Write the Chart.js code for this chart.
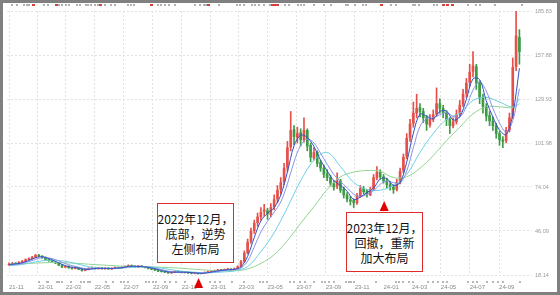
<!DOCTYPE html>
<html>
<head>
<meta charset="utf-8">
<script src="https://cdn.jsdelivr.net/npm/chart.js@4.4.0/dist/chart.umd.min.js"></script>
<style>
  html, body { margin: 0; padding: 0; background: #fff; }
  #wrap { position: relative; width: 560px; height: 295px; overflow: hidden; }
  #kline { position: absolute; left: 0; top: 0; }
  #frame { position: absolute; left: 0; top: 0; width: 560px; height: 295px; box-sizing: border-box; border: 3px solid #808080; pointer-events: none; }
  .note { position: absolute; box-sizing: border-box; border: 1.5px solid #e02b2b; background: #fff;
          font-family: "Noto Sans CJK SC", sans-serif; font-size: 12px; line-height: 15px; color: #111;
          display: flex; align-items: center; justify-content: center; text-align: center; white-space: nowrap; }
</style>
</head>
<body>
<div id="wrap">
  <canvas id="kline" width="560" height="295"></canvas>
  <div class="note" style="left:157px;top:203px;width:77px;height:60px;"><div>2022年12月，<br>底部，逆势<br>左侧布局</div></div>
  <div class="note" style="left:346px;top:212px;width:77px;height:60px;"><div>2023年12月，<br>回撤，重新<br>加大布局</div></div>
  <div id="frame"></div>
</div>
<script>
// weekly candles, week 0 = 2021-11-01
const startDate = new Date(2021, 10, 1);

const tickLabels = ['21-11','22-01','22-03','22-05','22-07','22-09','22-11','23-01','23-03',
                    '23-05','23-07','23-09','23-11','24-01','24-03','24-05','24-07','24-09'];
const yTicks = [18.14, 46.09, 74.04, 101.98, 129.93, 157.88, 185.83];

const openP = [
  24.6,25.0,25.7,25.1,26.4,26.7,28.0,28.5,29.5,30.7,
  30.1,29.2,28.0,27.3,26.2,25.9,24.5,23.1,23.7,22.8,
  22.2,22.9,21.9,21.0,21.7,22.3,22.9,22.1,22.7,22.0,
  22.6,21.9,22.4,23.0,22.6,23.0,23.7,24.2,23.8,23.1,
  23.9,23.4,23.0,22.3,21.9,21.2,20.6,20.4,19.9,19.4,
  19.8,20.5,20.1,19.6,20.0,19.6,19.1,19.4,19.0,19.3,
  19.8,20.2,20.6,21.0,21.5,21.2,21.6,22.0,21.5,22.2,
  23.6,26.8,32.3,39.5,46.5,51.5,55.0,58.5,59.0,56.5,
  61.5,66.5,72.5,77.5,86.5,99.5,110.5,105.5,108.5,104.0,
  110.0,100.5,92.5,96.0,89.5,86.0,82.5,80.0,76.0,74.5,
  78.0,72.5,69.0,66.0,65.5,64.0,68.5,73.0,71.5,69.0,
  73.0,80.0,83.5,80.5,78.0,75.5,74.0,72.5,77.0,84.5,
  93.5,105.5,114.5,121.0,124.5,122.0,118.0,113.5,117.0,120.5,
  127.0,124.0,121.0,117.0,113.0,115.5,120.5,126.5,133.5,140.5,
  147.5,150.5,140.0,131.0,125.0,119.5,116.0,113.0,108.0,104.0,
  103.5,110.5,118.5,150.5,169.0
];
const highP = [
  25.8,26.1,26.0,26.7,27.4,28.4,29.1,30.0,31.3,31.2,
  30.5,29.6,28.5,27.7,26.9,26.1,24.8,24.2,24.0,23.1,
  23.4,23.1,22.2,22.0,22.8,23.3,23.1,23.0,22.9,22.9,
  22.8,22.7,23.3,23.2,23.5,24.0,24.6,24.5,24.0,24.2,
  24.1,23.6,23.1,22.5,22.0,21.4,20.9,20.6,20.1,20.2,
  20.8,20.7,20.3,20.3,20.2,19.8,19.8,19.6,19.6,20.1,
  20.6,20.9,21.3,21.8,21.7,22.0,22.4,22.2,22.6,24.0,
  27.5,33.5,41.0,48.0,53.0,57.5,61.0,63.0,60.5,63.5,
  69.0,75.0,80.0,89.0,103.0,122.0,113.0,112.0,111.0,118.0,
  111.0,102.0,99.0,97.0,91.0,88.0,85.0,81.5,78.0,83.0,
  79.0,74.0,70.5,68.0,66.5,70.0,75.0,74.5,72.5,74.0,
  82.0,87.0,85.0,82.0,79.5,77.5,75.5,79.0,86.0,95.0,
  108.0,117.0,128.0,133.0,127.0,124.0,119.5,120.0,123.0,137.0,
  130.0,126.0,122.5,118.0,118.0,123.0,129.0,136.0,143.0,152.0,
  160.0,152.0,141.5,133.0,127.0,122.0,118.5,114.5,109.5,106.0,
  112.0,121.0,156.0,186.0,174.0
];
const lowP = [
  24.2,24.7,24.8,24.9,26.0,26.5,27.5,28.2,29.0,29.6,
  28.6,27.6,26.8,25.9,25.3,24.0,22.8,22.9,22.4,21.9,
  22.0,21.5,20.5,20.8,21.4,22.0,21.8,21.9,21.8,21.8,
  21.7,21.7,22.2,22.3,22.4,22.8,23.4,23.4,22.9,22.9,
  23.1,22.6,22.0,21.5,20.9,20.3,20.0,19.6,19.1,19.2,
  19.6,19.8,19.4,19.4,19.2,18.9,18.9,18.7,18.8,19.1,
  19.6,20.0,20.3,20.8,20.8,21.0,21.4,21.2,21.3,22.0,
  23.3,26.2,31.5,38.2,44.5,49.0,53.0,55.5,53.5,55.0,
  59.5,64.0,69.5,75.5,84.0,97.0,101.0,102.0,100.0,102.5,
  97.0,90.0,91.0,87.0,84.0,80.0,78.0,74.5,72.0,73.0,
  70.5,67.0,64.5,62.5,61.0,63.0,67.5,69.5,67.5,68.5,
  72.0,78.5,79.0,76.5,73.5,72.0,70.0,71.5,76.0,83.0,
  92.0,103.0,112.0,118.0,118.5,115.0,110.0,112.0,115.5,119.0,
  121.0,118.0,113.0,108.0,111.5,114.0,119.0,125.0,131.0,138.0,
  144.0,136.0,127.0,121.0,116.0,113.0,110.0,105.0,100.5,99.0,
  102.0,109.0,117.5,148.0,152.0
];
const closeP = [
  25.0,25.6,25.2,26.3,26.8,27.9,28.6,29.4,30.6,30.2,
  29.1,28.0,27.2,26.3,25.8,24.4,23.2,23.6,22.7,22.3,
  22.9,21.8,21.0,21.6,22.4,22.8,22.2,22.6,22.1,22.5,
  22.0,22.4,22.9,22.6,23.1,23.6,24.1,23.7,23.2,23.8,
  23.4,22.9,22.3,21.8,21.2,20.6,20.3,19.9,19.5,19.8,
  20.4,20.1,19.7,20.0,19.5,19.2,19.4,19.0,19.3,19.8,
  20.3,20.6,21.0,21.4,21.2,21.6,21.9,21.5,22.1,23.5,
  26.5,32.0,39.0,46.0,51.0,55.0,58.0,59.5,57.0,61.0,
  66.0,72.0,77.0,86.0,99.0,110.0,106.0,108.0,104.0,110.0,
  100.0,93.0,96.0,89.0,86.0,82.0,80.0,76.5,74.0,78.0,
  72.0,69.0,66.5,65.0,64.0,68.5,73.0,71.0,69.5,72.5,
  80.0,83.5,80.5,78.0,75.5,74.0,72.5,77.0,84.0,93.0,
  105.0,114.0,121.0,124.0,122.0,118.0,114.0,117.0,120.0,127.0,
  124.0,121.0,117.0,113.0,115.5,120.0,126.0,133.0,140.0,147.0,
  151.0,140.0,131.0,125.0,119.0,116.0,113.0,108.0,104.0,103.0,
  110.0,118.0,150.0,170.0,160.0
];

// moving average lines (fast ones every 2 weeks, slow ones every 4)
const fastWeeks = [];
for (let w = 0; w <= 154; w += 2) fastWeeks.push(w);
const slowWeeks = [];
for (let w = 0; w <= 152; w += 4) slowWeeks.push(w);
slowWeeks.push(154);

const ma20 = [
  24.8,25.2,25.9,27.4,29.1,29.8,28.6,26.8,24.9,23.4,
  22.9,22.0,21.7,22.3,22.4,22.3,22.4,22.8,23.6,23.7,
  23.5,23.0,22.1,21.0,20.1,19.9,20.0,19.8,19.5,19.2,
  19.6,20.4,21.1,21.5,21.7,23.4,30.0,42.0,52.5,57.4,
  60.9,69.0,83.5,100.2,107.0,105.5,99.8,91.0,84.3,78.1,
  75.1,71.4,66.1,67.6,70.5,73.3,79.1,79.4,75.0,76.9,
  89.8,108.2,120.3,119.0,117.3,122.0,122.3,116.6,118.6,129.8,
  142.8,142.3,128.8,118.5,110.3,107.3,120.3,149.5
];
const ma30 = [
  24.5,24.9,25.5,26.7,28.0,29.2,29.0,27.9,26.2,24.7,
  23.6,22.6,22.1,22.1,22.3,22.3,22.3,22.6,23.2,23.6,
  23.6,23.3,22.5,21.6,20.6,20.0,19.9,19.9,19.6,19.4,
  19.5,20.0,20.7,21.2,21.6,22.6,27.0,36.0,45.5,52.3,
  58.0,64.5,76.0,90.0,100.5,104.5,102.0,95.5,88.5,82.0,
  77.5,73.6,69.5,68.0,69.3,71.5,75.8,77.8,76.8,76.5,
  84.2,99.0,112.5,117.5,118.0,120.0,121.2,119.0,118.4,125.0,
  135.6,140.8,135.0,124.0,114.7,109.0,116.2,136.5
];
const ma60 = [
  24.0,24.8,26.5,27.5,27.2,25.5,23.4,22.4,22.3,22.8,
  23.3,23.1,21.8,20.6,19.9,19.6,20.0,20.8,23.5,33.0,
  45.0,61.0,78.0,91.0,96.0,87.0,77.0,72.5,72.0,75.0,
  82.0,96.0,108.0,117.0,121.0,129.0,131.0,128.0,125.0,130.0
];
const ma120 = [
  25.0,25.3,25.7,26.0,26.0,25.6,25.0,24.5,24.0,23.6,
  23.4,23.2,22.9,22.4,21.8,21.2,20.8,20.8,22.0,25.5,
  31.0,40.0,51.0,61.5,72.5,80.5,83.5,84.5,84.0,80.0,
  80.5,86.0,94.0,103.5,112.0,120.5,125.0,125.0,124.5,127.0
];

// little event marks along the top strip and above the date axis (week positions)
const topMarksGray = [0.9,2.4,4.5,5.4,6.0,10.5,11.7,15.0,15.9,17.1,18.0,20.4,21.3,23.1,23.9,24.8,26.0,26.9,
  29.0,30.8,32.0,35.9,36.8,37.7,44.9,45.8,47.0,48.2,50.0,56.0,57.5,58.7,59.3,63.5,68.9,69.8,71.0,73.4,
  74.3,75.4,77.0,78.7,83.2,84.4,87.1,88.0,88.9,91.9,94.9,97.3,101.8,102.4,104.5,106.9,107.8,115.3,116.8,
  121.9,122.5,123.7,128.1,129.1,134.1,138.6,140.8,142.2,146.7,154.8];
const topMarksRed = [7.2,14.1,27.5,42.8,59.9,79.3,80.2,80.8,112.3,130.8,132.3,133.8];
const bottomMarks = [9.0,11.4,11.7,14.4,15.0,15.9,18.6,21.6,22.5,23.7,24.5,29.3,31.4,33.8,34.7,35.9,41.3,42.2,
  43.4,44.3,47.0,48.5,50.3,53.0,60.5,62.3,63.8,67.4,71.0,75.7,76.6,77.8,84.7,85.9,87.7,89.2,91.9,94.3,95.2,
  96.4,98.2,101.8,102.7,103.3,104.2,110.8,116.8,117.7,118.9,120.7,121.9,126.4,127.9,129.4,130.8,132.3,138.6,
  139.9,141.3,144.3,145.9,147.6,149.1,154.2];

// arrows under the two notes (week positions)
const arrowWeeks = [57.2, 113.2];

const RED = '#e5504a';
const GREEN = '#3d9a45';

const tickWeeks = tickLabels.map(t => {
  const d = new Date(2000 + Number(t.slice(0, 2)), Number(t.slice(3)) - 1, 1);
  return (d - startDate) / (7 * 86400000);
});

const candleColor = ctx => closeP[ctx.dataIndex] >= openP[ctx.dataIndex] ? RED : GREEN;
const lineData = (weeks, vals) => vals.map((v, i) => ({ x: weeks[i], y: v }));

// marks outside the plot area and the two red arrows, placed with the x scale
const extras = {
  id: 'extras',
  afterDraw(chart) {
    const c = chart.ctx, xs = chart.scales.x;
    c.save();
    const dots = (weeks, y, size, color) => {
      c.fillStyle = color;
      weeks.forEach(w => c.fillRect(Math.round(xs.getPixelForValue(w)) - 1, y, size, 2));
    };
    dots(topMarksGray, 4, 2, '#b0b0b0');
    dots(topMarksRed, 4, 3, '#d84040');
    dots(bottomMarks, 281, 2, '#b8b8b8');

    c.fillStyle = '#e00000';
    [[arrowWeeks[0], 278], [arrowWeeks[1], 201]].forEach(([w, top]) => {
      const px = xs.getPixelForValue(w);
      c.beginPath();
      c.moveTo(px, top);
      c.lineTo(px + 4.5, top + 10);
      c.lineTo(px - 4.5, top + 10);
      c.closePath();
      c.fill();
    });
    c.restore();
  }
};

const maLine = (label, weeks, vals, color) => ({
  type: 'line', label, data: lineData(weeks, vals), borderColor: color, borderWidth: 1,
  pointRadius: 0, tension: 0.35, order: 1
});

new Chart(document.getElementById('kline'), {
  type: 'bar',
  data: {
    datasets: [
      maLine('MA20', fastWeeks, ma20, '#3550c4'),
      maLine('MA30', fastWeeks, ma30, '#8794e4'),
      maLine('MA60', slowWeeks, ma60, '#6dd0e4'),
      maLine('MA120', slowWeeks, ma120, '#92d492'),
      { label: 'body', data: openP.map((o, i) => ({ x: i, y: [o, closeP[i]] })),
        backgroundColor: candleColor, barThickness: 2, grouped: false, order: 2 },
      { label: 'wick', data: lowP.map((l, i) => ({ x: i, y: [l, highP[i]] })),
        backgroundColor: candleColor, barThickness: 1, grouped: false, order: 3 }
    ]
  },
  options: {
    responsive: false,
    animation: false,
    layout: { padding: { left: 3, top: 11, right: 0, bottom: 0 } },
    plugins: { legend: { display: false }, tooltip: { enabled: false } },
    scales: {
      x: {
        type: 'linear', min: -0.6, max: 157.8, offset: false,
        afterBuildTicks: axis => { axis.ticks = tickWeeks.map(v => ({ value: v })); },
        afterFit: axis => { axis.height = 20; },
        grid: { color: '#e2e2e2', offset: false, drawTicks: false },
        border: { display: false, dash: [2, 2] },
        ticks: { autoSkip: false, maxRotation: 0, align: 'start', padding: 9, color: '#8a8a8a',
                 font: { family: 'Liberation Sans', size: 6 },
                 callback: (v, i) => tickLabels[i] }
      },
      y: {
        position: 'right', min: 18.14, max: 185.83,
        afterBuildTicks: axis => { axis.ticks = yTicks.map(v => ({ value: v })); },
        afterFit: axis => { axis.width = 28; },
        grid: { color: '#e2e2e2', drawTicks: false },
        border: { display: false, dash: [2, 2] },
        ticks: { padding: 3, color: '#9a9a9a', font: { family: 'Liberation Sans', size: 5.5 },
                 callback: v => v.toFixed(2) }
      }
    }
  },
  plugins: [extras]
});
</script>
</body>
</html>
